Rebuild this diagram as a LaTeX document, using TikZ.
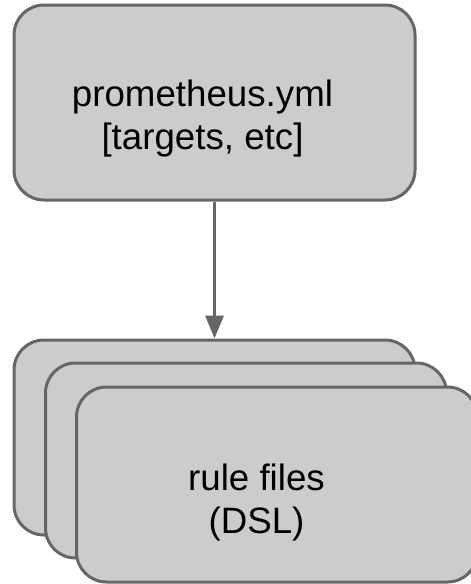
\documentclass[tikz,border=0pt]{standalone}
\usepackage{fontspec}
\setmainfont{Liberation Sans}
\usetikzlibrary{arrows.meta}
\definecolor{boxfill}{HTML}{CCCCCC}
\definecolor{boxline}{HTML}{666666}
\begin{document}
\begin{tikzpicture}[x=1pt,y=-1pt,
		filebox/.style={draw=boxline, fill=boxfill, line width=3pt, rounded corners=30pt,
			minimum width=401pt, minimum height=195pt, inner sep=0pt},
		filetext/.style={align=center, font=\fontsize{36.7}{43}\selectfont, inner sep=0pt}]
	\useasboundingbox (0,0) rectangle (471,584);
		\node[filebox](config) at (214.5,102.5) {};
		\node[filetext](configtext) at (202.5,119) {prometheus.yml\\{}[targets, etc]};
		% stacked rule files
		\node[filebox](rules1) at (214.5,437.5) {};
		\node[filebox](rules2) at (246,460.5) {};
		\node[filebox](rules3) at (277,484.5) {};
		\node[filetext](rulestext) at (256.5,502) {rule files\\(DSL)};
		\draw[boxline, line width=3.5pt, -{Triangle[width=18pt,length=23pt]}] (config.south) -- (rules1.north);
	\end{tikzpicture}
\end{document}
